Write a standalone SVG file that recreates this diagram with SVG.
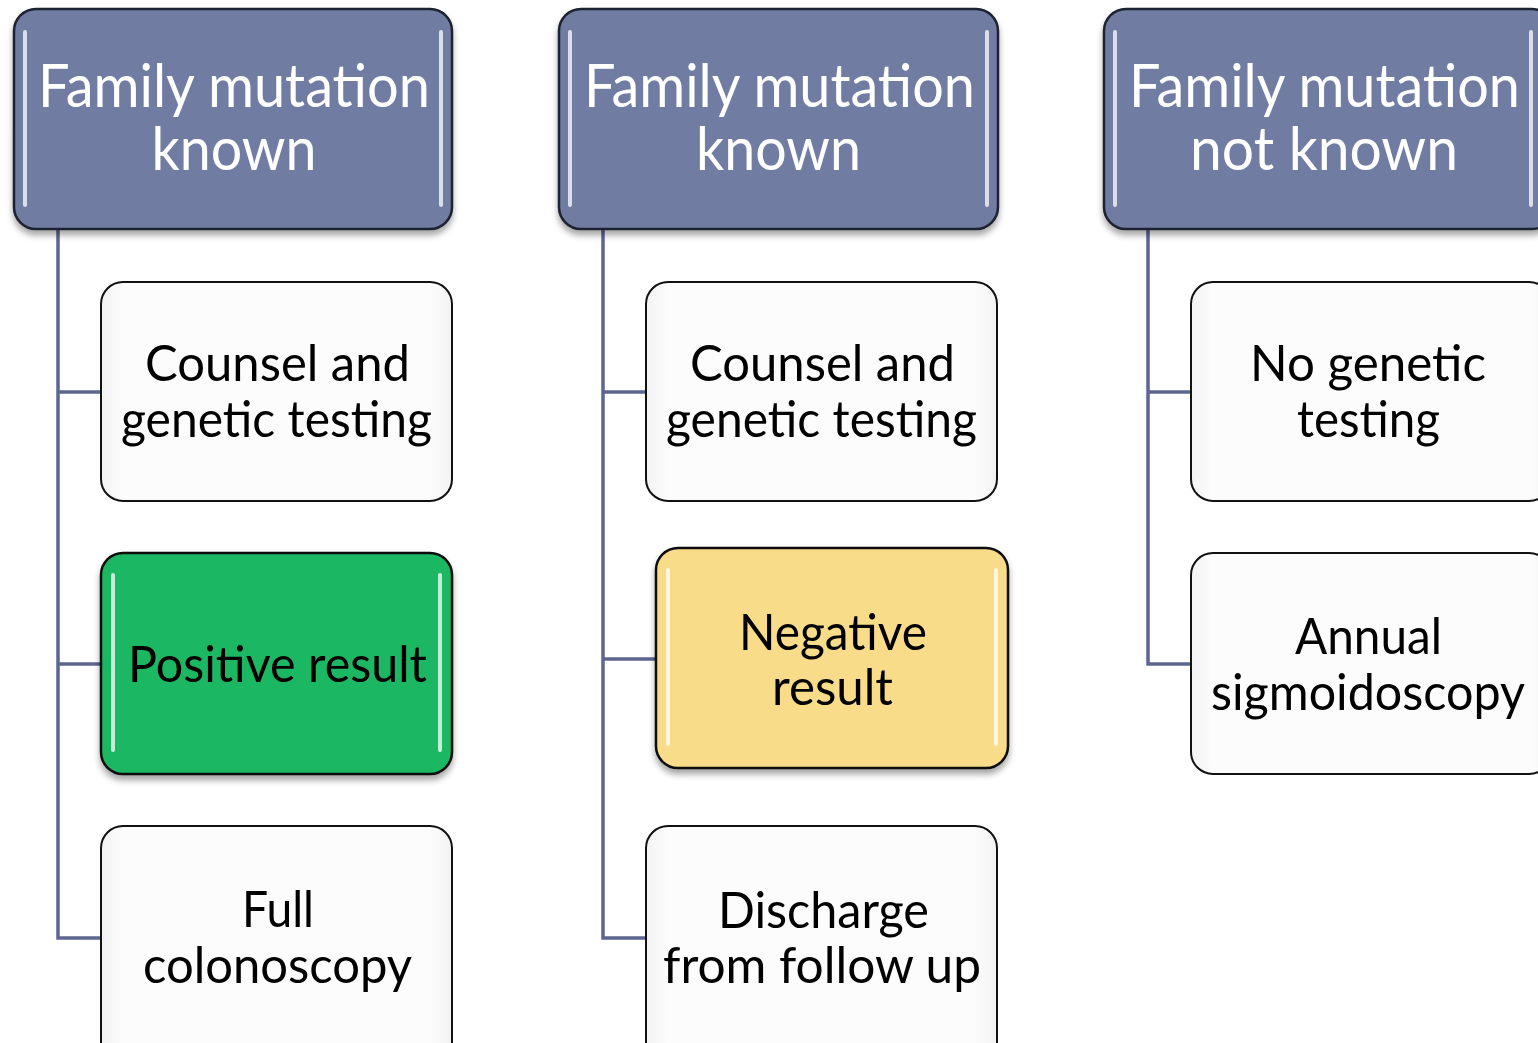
<svg xmlns="http://www.w3.org/2000/svg" width="1538" height="1043" viewBox="0 0 1538 1043">
<defs>
<filter id="sh" x="-10%" y="-10%" width="120%" height="130%">
<feDropShadow dx="0" dy="5" stdDeviation="3" flood-color="#000" flood-opacity="0.35"/>
</filter>
<linearGradient id="wg" x1="0" y1="0" x2="1" y2="0">
<stop offset="0" stop-color="#F2F2F2"/>
<stop offset="0.06" stop-color="#FCFCFC"/>
<stop offset="0.94" stop-color="#FCFCFC"/>
<stop offset="1" stop-color="#F2F2F2"/>
</linearGradient>
</defs>
<style>
.hdr{fill:#717CA3;stroke:#1E2230;stroke-width:2.5;filter:url(#sh)}
.wht{fill:url(#wg);stroke:#111;stroke-width:2}
.grn{fill:#1DB763;stroke:#111;stroke-width:2.5;filter:url(#sh)}
.yel{fill:#F9DC8A;stroke:#111;stroke-width:2.5;filter:url(#sh)}
.hl{stroke:#FFFFFF;stroke-width:4;stroke-linecap:round;opacity:0.75}
.ht{font-family:Lato,"Open Sans",sans-serif;font-size:60px;fill:#FFFFFF;text-anchor:middle}
.ct{font-family:Lato,"Open Sans",sans-serif;font-size:50px;fill:#000000;text-anchor:middle}
.con{fill:none;stroke:#5C6690;stroke-width:3.5}
</style>
<rect width="1538" height="1043" fill="#FFFFFF"/>
<g id="connectors">
<path class="con" d="M58 229 V938 H101 M58 392 H101 M58 664 H101"/>
<path class="con" d="M603 229 V938 H646 M603 392 H646 M603 659 H656"/>
<path class="con" d="M1148 229 V664 H1191 M1148 392 H1191"/>
</g>
<g id="h1">
<rect class="hdr" x="14" y="9" width="438" height="220" rx="22"/>
<line class="hl" x1="25" y1="32" x2="25" y2="205"/>
<line class="hl" x1="441" y1="32" x2="441" y2="205"/>
<text class="ht" x="234" y="107" textLength="392" lengthAdjust="spacingAndGlyphs">Family mutation</text>
<text class="ht" x="234" y="170" textLength="165" lengthAdjust="spacingAndGlyphs">known</text>
</g>
<g id="h2">
<rect class="hdr" x="559" y="9" width="439" height="220" rx="22"/>
<line class="hl" x1="570" y1="32" x2="570" y2="205"/>
<line class="hl" x1="987" y1="32" x2="987" y2="205"/>
<text class="ht" x="779.5" y="107" textLength="391" lengthAdjust="spacingAndGlyphs">Family mutation</text>
<text class="ht" x="778.5" y="170" textLength="165" lengthAdjust="spacingAndGlyphs">known</text>
</g>
<g id="h3">
<rect class="hdr" x="1104" y="9" width="450" height="220" rx="22"/>
<line class="hl" x1="1115" y1="32" x2="1115" y2="205"/>
<line class="hl" x1="1531" y1="32" x2="1531" y2="205"/>
<text class="ht" x="1324.5" y="107" textLength="391" lengthAdjust="spacingAndGlyphs">Family mutation</text>
<text class="ht" x="1324" y="170" textLength="268" lengthAdjust="spacingAndGlyphs">not known</text>
</g>
<g id="n1a">
<rect class="wht" x="101" y="282" width="351" height="219" rx="22"/>
<text class="ct" x="277.5" y="381" textLength="265" lengthAdjust="spacingAndGlyphs">Counsel and</text>
<text class="ct" x="276.5" y="437" textLength="311" lengthAdjust="spacingAndGlyphs">genetic testing</text>
</g>
<g id="n1b">
<rect class="grn" x="101" y="553" width="351" height="221" rx="22"/>
<line class="hl" x1="113" y1="575" x2="113" y2="750"/>
<line class="hl" x1="440" y1="575" x2="440" y2="750"/>
<text class="ct" x="277.5" y="682" textLength="299" lengthAdjust="spacingAndGlyphs">Positive result</text>
</g>
<g id="n1c">
<rect class="wht" x="101" y="826" width="351" height="240" rx="22"/>
<text class="ct" x="278" y="927" textLength="72" lengthAdjust="spacingAndGlyphs">Full</text>
<text class="ct" x="277.5" y="983" textLength="269" lengthAdjust="spacingAndGlyphs">colonoscopy</text>
</g>
<g id="n2a">
<rect class="wht" x="646" y="282" width="351" height="219" rx="22"/>
<text class="ct" x="822.5" y="381" textLength="265" lengthAdjust="spacingAndGlyphs">Counsel and</text>
<text class="ct" x="821.5" y="437" textLength="311" lengthAdjust="spacingAndGlyphs">genetic testing</text>
</g>
<g id="n2b">
<rect class="yel" x="656" y="548" width="352" height="220" rx="22"/>
<line class="hl" x1="668" y1="570" x2="668" y2="744"/>
<line class="hl" x1="996" y1="570" x2="996" y2="744"/>
<text class="ct" x="833" y="650" textLength="188" lengthAdjust="spacingAndGlyphs">Negative</text>
<text class="ct" x="832.5" y="705" textLength="121" lengthAdjust="spacingAndGlyphs">result</text>
</g>
<g id="n2c">
<rect class="wht" x="646" y="826" width="351" height="240" rx="22"/>
<text class="ct" x="823.5" y="928" textLength="211" lengthAdjust="spacingAndGlyphs">Discharge</text>
<text class="ct" x="822" y="983" textLength="318" lengthAdjust="spacingAndGlyphs">from follow up</text>
</g>
<g id="n3a">
<rect class="wht" x="1191" y="282" width="360" height="219" rx="22"/>
<text class="ct" x="1368" y="381" textLength="236" lengthAdjust="spacingAndGlyphs">No genetic</text>
<text class="ct" x="1368.5" y="437" textLength="143" lengthAdjust="spacingAndGlyphs">testing</text>
</g>
<g id="n3b">
<rect class="wht" x="1191" y="553" width="360" height="221" rx="22"/>
<text class="ct" x="1368.5" y="654" textLength="147" lengthAdjust="spacingAndGlyphs">Annual</text>
<text class="ct" x="1368" y="710" textLength="314" lengthAdjust="spacingAndGlyphs">sigmoidoscopy</text>
</g>
</svg>
